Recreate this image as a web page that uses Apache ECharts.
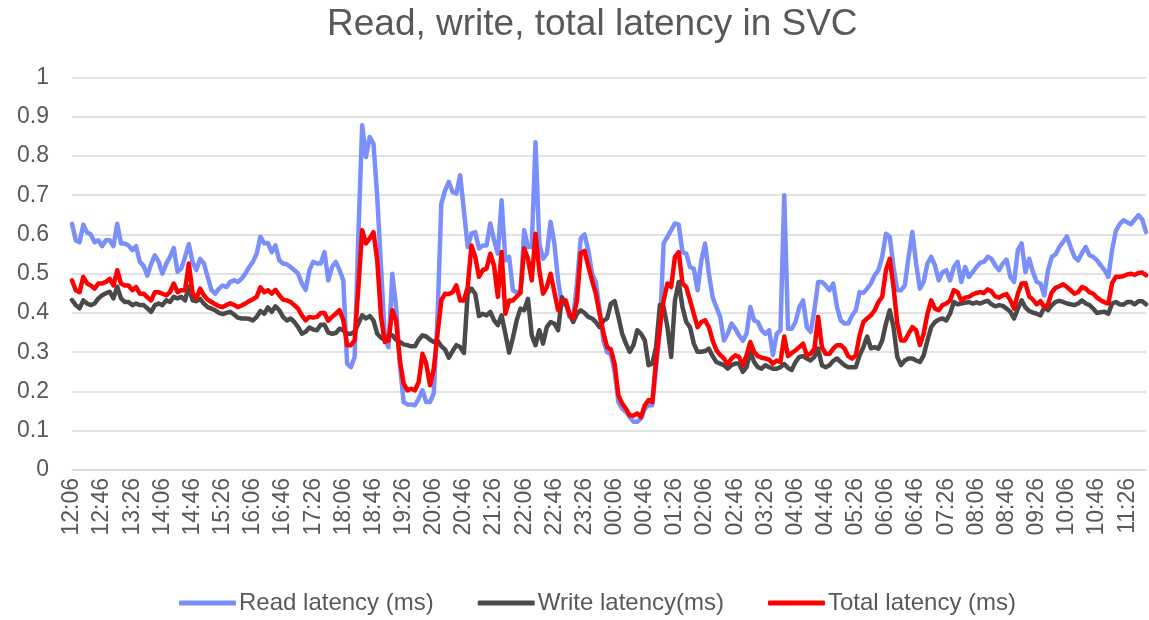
<!DOCTYPE html>
<html>
<head>
<meta charset="utf-8">
<title>Read, write, total latency in SVC</title>
<script src="https://cdn.jsdelivr.net/npm/echarts@6/dist/echarts.min.js"></script>
<style>
  html, body { margin: 0; padding: 0; background: #ffffff; }
  #chart { width: 1149px; height: 620px; }
</style>
</head>
<body>
<div id="chart"></div>
<script>
// Sampling: one value every 5 minutes starting at 12:06
const startTime = '12:06';
const stepMinutes = 5;
const labelEvery = 8; // one tick label every 40 minutes

const seriesNames = ['Read latency (ms)', 'Write latency(ms)', 'Total latency (ms)'];
const yTicks = [0, 0.1, 0.2, 0.3, 0.4, 0.5, 0.6, 0.7, 0.8, 0.9, 1];

const readLatency = [
  0.627,0.585,0.58,0.625,0.605,0.6,0.58,0.585,0.57,0.585,
  0.585,0.57,0.627,0.577,0.577,0.572,0.56,0.57,0.53,0.52,
  0.495,0.525,0.547,0.53,0.5,0.525,0.543,0.565,0.505,0.513,
  0.543,0.575,0.53,0.509,0.538,0.526,0.492,0.458,0.449,0.462,
  0.47,0.466,0.479,0.483,0.479,0.487,0.5,0.517,0.53,0.551,
  0.594,0.577,0.578,0.555,0.572,0.534,0.526,0.524,0.517,0.509,
  0.5,0.475,0.459,0.509,0.53,0.526,0.526,0.555,0.483,0.517,
  0.53,0.509,0.483,0.271,0.262,0.288,0.6,0.878,0.797,0.848,
  0.831,0.695,0.517,0.339,0.313,0.5,0.415,0.271,0.173,0.167,
  0.167,0.165,0.182,0.203,0.173,0.173,0.195,0.39,0.678,0.712,
  0.734,0.708,0.704,0.751,0.661,0.568,0.602,0.606,0.564,0.572,
  0.572,0.628,0.585,0.551,0.687,0.534,0.543,0.458,0.453,0.453,
  0.611,0.568,0.568,0.835,0.577,0.538,0.551,0.632,0.577,0.483,
  0.42,0.43,0.39,0.39,0.475,0.59,0.6,0.56,0.5,0.479,
  0.41,0.33,0.3,0.295,0.25,0.173,0.156,0.148,0.135,0.123,
  0.123,0.131,0.156,0.165,0.165,0.262,0.356,0.577,0.594,0.611,
  0.628,0.625,0.555,0.551,0.517,0.513,0.458,0.534,0.577,0.5,
  0.44,0.415,0.39,0.33,0.347,0.373,0.36,0.343,0.329,0.347,
  0.415,0.381,0.377,0.356,0.347,0.356,0.293,0.347,0.356,0.7,
  0.36,0.36,0.377,0.415,0.432,0.364,0.352,0.407,0.479,0.479,
  0.47,0.458,0.475,0.415,0.381,0.373,0.373,0.394,0.407,0.453,
  0.451,0.462,0.475,0.496,0.509,0.543,0.602,0.594,0.517,0.458,
  0.458,0.47,0.543,0.606,0.526,0.462,0.479,0.526,0.543,0.521,
  0.483,0.504,0.509,0.483,0.517,0.53,0.479,0.517,0.492,0.504,
  0.517,0.528,0.53,0.543,0.538,0.521,0.509,0.526,0.536,0.492,
  0.479,0.56,0.577,0.504,0.538,0.504,0.479,0.475,0.445,0.509,
  0.543,0.549,0.568,0.581,0.595,0.568,0.543,0.534,0.553,0.568,
  0.547,0.543,0.534,0.521,0.509,0.492,0.56,0.609,0.626,0.636,
  0.631,0.626,0.638,0.649,0.638,0.606
];

const writeLatency = [
  0.433,0.42,0.412,0.432,0.424,0.42,0.424,0.437,0.445,0.45,
  0.454,0.437,0.467,0.437,0.428,0.428,0.42,0.424,0.42,0.42,
  0.412,0.403,0.42,0.424,0.42,0.432,0.428,0.441,0.437,0.441,
  0.432,0.467,0.432,0.43,0.436,0.424,0.415,0.411,0.407,0.4,
  0.397,0.4,0.403,0.396,0.388,0.386,0.386,0.385,0.381,0.39,
  0.405,0.398,0.414,0.403,0.417,0.407,0.39,0.381,0.386,0.377,
  0.364,0.347,0.352,0.363,0.358,0.356,0.37,0.37,0.35,0.347,
  0.349,0.36,0.356,0.347,0.347,0.352,0.373,0.394,0.386,0.392,
  0.381,0.347,0.337,0.332,0.343,0.343,0.332,0.326,0.32,0.318,
  0.315,0.315,0.332,0.343,0.34,0.332,0.326,0.329,0.315,0.307,
  0.286,0.303,0.318,0.313,0.298,0.45,0.462,0.449,0.392,0.398,
  0.394,0.403,0.381,0.369,0.394,0.347,0.299,0.337,0.381,0.411,
  0.407,0.436,0.343,0.318,0.356,0.322,0.364,0.377,0.373,0.356,
  0.44,0.424,0.398,0.377,0.398,0.407,0.4,0.39,0.386,0.377,
  0.364,0.38,0.386,0.424,0.43,0.39,0.347,0.322,0.301,0.318,
  0.356,0.347,0.33,0.267,0.271,0.313,0.42,0.415,0.364,0.288,
  0.432,0.479,0.415,0.377,0.364,0.322,0.301,0.301,0.303,0.309,
  0.29,0.275,0.271,0.267,0.258,0.267,0.271,0.271,0.25,0.262,
  0.301,0.275,0.262,0.258,0.267,0.262,0.258,0.258,0.262,0.27,
  0.26,0.255,0.275,0.288,0.29,0.284,0.279,0.288,0.309,0.267,
  0.262,0.267,0.278,0.284,0.275,0.267,0.262,0.262,0.262,0.292,
  0.313,0.34,0.31,0.313,0.309,0.33,0.373,0.407,0.364,0.288,
  0.267,0.279,0.284,0.284,0.279,0.275,0.292,0.33,0.364,0.377,
  0.383,0.386,0.381,0.398,0.428,0.422,0.424,0.426,0.428,0.424,
  0.427,0.424,0.428,0.431,0.422,0.417,0.42,0.418,0.411,0.403,
  0.386,0.411,0.432,0.414,0.405,0.401,0.398,0.394,0.414,0.407,
  0.42,0.428,0.431,0.428,0.424,0.422,0.42,0.424,0.432,0.424,
  0.42,0.411,0.4,0.402,0.403,0.398,0.424,0.428,0.422,0.421,
  0.428,0.428,0.422,0.43,0.43,0.422
];

const totalLatency = [
  0.483,0.458,0.453,0.492,0.475,0.47,0.462,0.475,0.475,0.479,
  0.487,0.47,0.509,0.475,0.47,0.47,0.458,0.466,0.449,0.449,
  0.44,0.432,0.453,0.453,0.449,0.445,0.453,0.475,0.453,0.458,
  0.458,0.526,0.45,0.437,0.462,0.445,0.434,0.428,0.422,0.417,
  0.415,0.42,0.425,0.42,0.415,0.419,0.424,0.43,0.435,0.441,
  0.465,0.453,0.458,0.449,0.459,0.445,0.434,0.432,0.428,0.42,
  0.411,0.394,0.381,0.39,0.388,0.39,0.4,0.4,0.38,0.39,
  0.398,0.407,0.381,0.318,0.318,0.33,0.466,0.611,0.577,0.59,
  0.606,0.534,0.39,0.326,0.33,0.407,0.381,0.279,0.22,0.203,
  0.207,0.203,0.224,0.296,0.271,0.216,0.258,0.347,0.432,0.449,
  0.448,0.453,0.47,0.432,0.432,0.466,0.572,0.543,0.492,0.509,
  0.513,0.551,0.521,0.441,0.555,0.398,0.432,0.432,0.442,0.451,
  0.564,0.538,0.483,0.602,0.509,0.449,0.466,0.5,0.453,0.407,
  0.43,0.432,0.398,0.386,0.432,0.553,0.558,0.52,0.483,0.449,
  0.398,0.35,0.313,0.307,0.27,0.19,0.169,0.156,0.139,0.139,
  0.144,0.135,0.165,0.178,0.173,0.279,0.364,0.432,0.475,0.466,
  0.543,0.555,0.475,0.466,0.432,0.398,0.364,0.377,0.381,0.364,
  0.33,0.305,0.293,0.284,0.269,0.284,0.292,0.288,0.267,0.292,
  0.326,0.301,0.29,0.286,0.284,0.281,0.271,0.279,0.275,0.34,
  0.29,0.298,0.305,0.313,0.322,0.292,0.296,0.309,0.39,0.313,
  0.296,0.296,0.309,0.318,0.318,0.309,0.29,0.284,0.292,0.343,
  0.377,0.386,0.394,0.407,0.428,0.441,0.509,0.538,0.466,0.373,
  0.33,0.33,0.347,0.364,0.356,0.318,0.347,0.398,0.432,0.411,
  0.407,0.42,0.424,0.432,0.458,0.453,0.432,0.439,0.441,0.447,
  0.451,0.453,0.451,0.46,0.455,0.442,0.439,0.445,0.448,0.432,
  0.411,0.449,0.475,0.476,0.442,0.434,0.422,0.43,0.415,0.422,
  0.453,0.464,0.468,0.473,0.466,0.458,0.449,0.453,0.466,0.462,
  0.453,0.449,0.439,0.432,0.427,0.424,0.476,0.492,0.492,0.494,
  0.498,0.5,0.497,0.502,0.503,0.496
];

// Build the HH:MM category labels for each sample
function pad(n) { return (n < 10 ? '0' : '') + n; }
const startParts = startTime.split(':').map(Number);
const startMin = startParts[0] * 60 + startParts[1];
const timeLabels = readLatency.map(function (_, i) {
  const m = (startMin + i * stepMinutes) % 1440;
  return pad(Math.floor(m / 60)) + ':' + pad(m % 60);
});

const FONT = '"Liberation Sans", Arial, sans-serif';
const TEXT = '#595959';
const GRID = '#d9d9d9';

const chart = echarts.init(document.getElementById('chart'), null, { renderer: 'canvas' });

function lineSeries(name, data, color) {
  return {
    name: name,
    type: 'line',
    data: data,
    symbol: 'none',
    smooth: false,
    animation: false,
    lineStyle: { color: color, width: 4.5, join: 'round', cap: 'round' },
    itemStyle: { color: color }
  };
}

chart.setOption({
  animation: false,
  backgroundColor: '#ffffff',
  title: {
    text: 'Read, write, total latency in SVC',
    left: 327,
    top: 6,
    padding: 0,
    textStyle: { fontFamily: FONT, fontSize: 37, fontWeight: 'normal', color: TEXT }
  },
  legend: {
    left: 179,
    top: 591,
    padding: 0,
    itemWidth: 57,
    itemHeight: 5,
    itemGap: 44,
    icon: 'roundRect',
    textStyle: { fontFamily: FONT, fontSize: 24, color: TEXT, padding: [0, 0, 0, -2] },
    data: seriesNames
  },
  grid: { left: 72, right: 3, top: 77.4, bottom: 150, containLabel: false },
  xAxis: {
    type: 'category',
    boundaryGap: false,
    data: timeLabels,
    axisLine: { lineStyle: { color: GRID, width: 1.5 } },
    axisTick: { show: false },
    axisLabel: {
      interval: labelEvery - 1,
      rotate: 90,
      margin: 8,
      fontFamily: FONT,
      fontSize: 23,
      color: TEXT
    },
    splitLine: { show: false }
  },
  yAxis: {
    type: 'value',
    min: yTicks[0],
    max: yTicks[yTicks.length - 1],
    interval: yTicks[1] - yTicks[0],
    axisLine: { show: false },
    axisTick: { show: false },
    axisLabel: { margin: 23, fontFamily: FONT, fontSize: 23, color: TEXT },
    splitLine: { lineStyle: { color: GRID, width: 1.5 } }
  },
  series: [
    lineSeries(seriesNames[0], readLatency, '#7b8ffb'),
    lineSeries(seriesNames[1], writeLatency, '#4a4a4a'),
    lineSeries(seriesNames[2], totalLatency, '#ff0000')
  ]
});
</script>
</body>
</html>
